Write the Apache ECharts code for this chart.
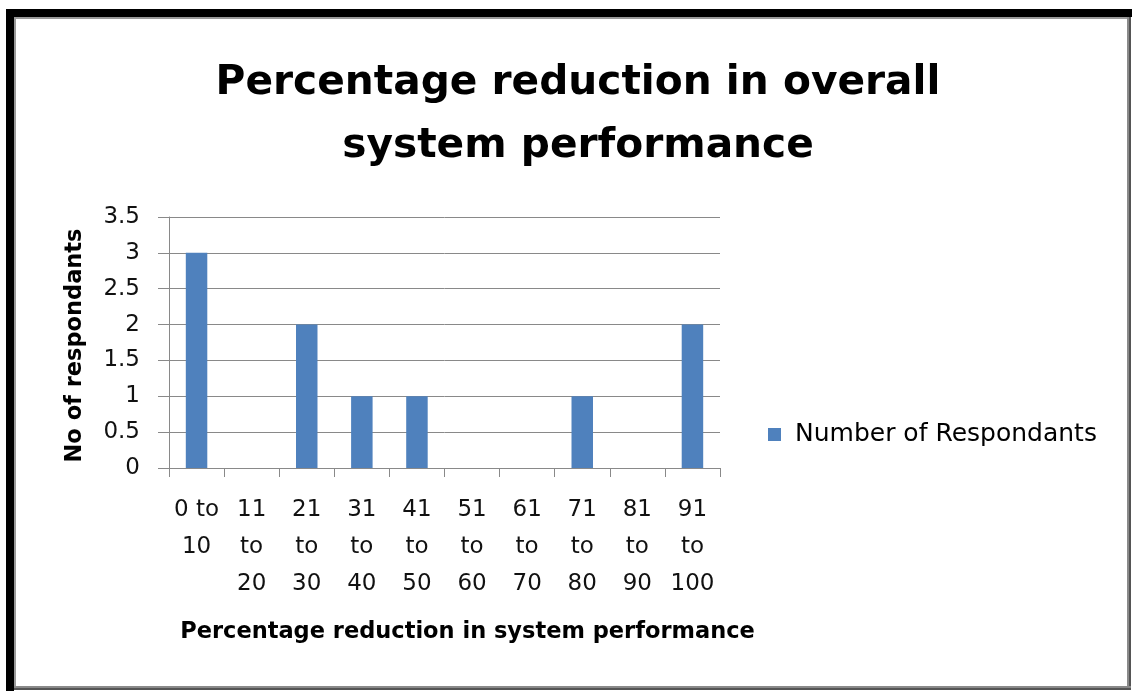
<!DOCTYPE html>
<html>
<head>
<meta charset="utf-8">
<script src="https://cdn.jsdelivr.net/npm/echarts@6/dist/echarts.min.js"></script>
<style>
  html, body { margin: 0; padding: 0; background: #fff; }
  #chart { width: 1132px; height: 691px; }
</style>
</head>
<body>
<div id="chart"></div>
<script>
// Respondent counts per band of performance reduction
const categories = ['0 to\n10', '11\nto\n20', '21\nto\n30', '31\nto\n40', '41\nto\n50',
                    '51\nto\n60', '61\nto\n70', '71\nto\n80', '81\nto\n90', '91\nto\n100'];
const respondents = [3, 0, 2, 1, 1, 0, 0, 1, 0, 2];
const seriesName = 'Number of Respondants';

const FONT = '"DejaVu Sans", sans-serif';
const GRID = '#898989';

const chart = echarts.init(document.getElementById('chart'), null, { renderer: 'canvas' });

chart.setOption({
  backgroundColor: '#fff',
  animation: false,
  title: {
    text: 'Percentage reduction in overall\nsystem performance',
    left: 573,
    top: 47,
    textAlign: 'center',
    textStyle: { fontFamily: FONT, fontWeight: 'bold', fontSize: 40.7, lineHeight: 63, color: '#000' }
  },
  legend: {
    left: 768,
    top: 422,
    padding: 0,
    icon: 'rect',
    itemWidth: 13,
    itemHeight: 13,
    itemGap: 10,
    textStyle: { fontFamily: FONT, fontSize: 25, color: '#000', padding: [0, 0, 0, 9] },
    data: [seriesName]
  },
  grid: { left: 169, right: 412, top: 217, bottom: 223, containLabel: false },
  xAxis: {
    type: 'category',
    data: categories,
    boundaryGap: true,
    axisLine: { show: true, lineStyle: { color: GRID, width: 1 } },
    axisTick: { show: true, length: 9, alignWithLabel: false, lineStyle: { color: GRID } },
    axisLabel: { interval: 0, margin: 24, fontFamily: FONT, fontSize: 23, lineHeight: 37, color: '#111' },
    name: 'Percentage reduction in system performance',
    nameLocation: 'middle',
    nameGap: 153,
    nameTextStyle: { fontFamily: FONT, fontWeight: 'bold', fontSize: 22.5, color: '#000', padding: [0, 0, 0, 46] }
  },
  yAxis: {
    type: 'value',
    min: 0,
    max: 3.5,
    interval: 0.5,
    axisLine: { show: true, lineStyle: { color: GRID, width: 1 } },
    axisTick: { show: true, length: 11, inside: false, lineStyle: { color: GRID } },
    splitLine: { show: true, lineStyle: { color: GRID, width: 1 } },
    axisLabel: { margin: 29, fontFamily: FONT, fontSize: 23, color: '#111' },
    name: 'No of respondants',
    nameLocation: 'middle',
    nameRotate: 90,
    nameGap: 82,
    nameTextStyle: { fontFamily: FONT, fontWeight: 'bold', fontSize: 22.5, color: '#000', padding: [0, 6, 0, 0] }
  },
  series: [{
    name: seriesName,
    type: 'bar',
    data: respondents,
    barWidth: '39%',
    itemStyle: { color: '#4F81BD' }
  }],
  graphic: [
    // picture frame: heavy black top/left edges, thin grey right/bottom edges
    { type: 'rect', shape: { x: 6, y: 9, width: 1126, height: 8 }, style: { fill: '#000' }, silent: true },
    { type: 'rect', shape: { x: 6, y: 9, width: 8, height: 682 }, style: { fill: '#000' }, silent: true },
    { type: 'rect', shape: { x: 14, y: 17, width: 1114, height: 2 }, style: { fill: '#9a9a9a' }, silent: true },
    { type: 'rect', shape: { x: 14, y: 17, width: 2, height: 669 }, style: { fill: '#9a9a9a' }, silent: true },
    { type: 'rect', shape: { x: 1127, y: 17, width: 2, height: 673 }, style: { fill: '#8a8a8a' }, silent: true },
    { type: 'rect', shape: { x: 1129, y: 17, width: 2, height: 673 }, style: { fill: '#555' }, silent: true },
    { type: 'rect', shape: { x: 14, y: 686, width: 1117, height: 2 }, style: { fill: '#8a8a8a' }, silent: true },
    { type: 'rect', shape: { x: 14, y: 688, width: 1117, height: 2 }, style: { fill: '#555' }, silent: true }
  ]
});
</script>
</body>
</html>
